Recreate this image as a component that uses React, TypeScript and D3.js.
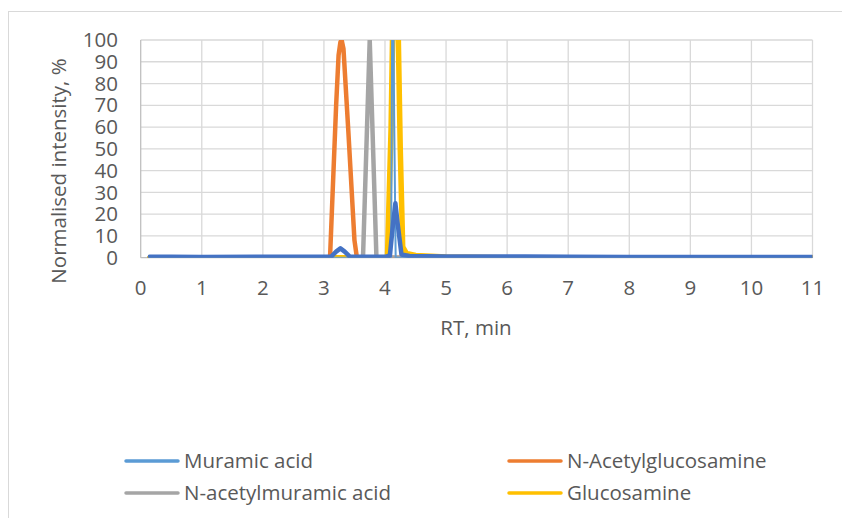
import React from 'react';
import * as d3 from 'd3';

// RT (min) / normalised intensity (%) pairs
const muramicAcid: [number, number][] = [
  [0.15, 0], [2, 0], [4.05, 0], [4.1, 0], [4.125, 150], [4.15, 65], [4.175, 0], [6, 0], [11, 0],
];
const nAcetylglucosamine: [number, number][] = [
  [0.15, 0], [2, 0], [3.05, 0], [3.1, 0], [3.2, 70], [3.24, 93], [3.27, 99], [3.29, 100], [3.32, 96],
  [3.4, 58], [3.5, 8], [3.54, 0], [3.6, 0], [6, 0], [11, 0],
];
const nAcetylmuramicAcid: [number, number][] = [
  [0.15, 0], [2, 0], [3.6, 0], [3.64, 0], [3.75, 100], [3.86, 0], [3.9, 0], [6, 0], [11, 0],
];
const glucosamine: [number, number][] = [
  [0.15, 0], [2, 0], [4.0, 0], [4.04, 0], [4.1, 60], [4.14, 130], [4.2, 130], [4.25, 50],
  [4.29, 5], [4.35, 2], [4.5, 1], [5, 0.3], [6, 0], [11, 0],
];
// unlabelled trace drawn on top (dark blue)
const totalTrace: [number, number][] = [
  [0.15, 0.4], [0.5, 0.4], [1, 0.3], [2, 0.4], [3, 0.4], [3.12, 0.5], [3.2, 2.8], [3.27, 4.3],
  [3.34, 2.8], [3.42, 0.6], [3.6, 0.4], [4.0, 0.4], [4.08, 1], [4.13, 15], [4.17, 25], [4.21, 15],
  [4.27, 1.5], [4.4, 0.8], [5, 0.6], [6, 0.5], [6.3, 0.6], [7, 0.4], [8, 0.3], [9, 0.3], [10, 0.3], [11, 0.3],
];

const xTicks = [0, 1, 2, 3, 4, 5, 6, 7, 8, 9, 10, 11];
const yTicks = [0, 10, 20, 30, 40, 50, 60, 70, 80, 90, 100];

const legendNames = ['Muramic acid', 'N-Acetylglucosamine', 'N-acetylmuramic acid', 'Glucosamine'];
const legendColors = ['#5B9BD5', '#ED7D31', '#A5A5A5', '#FFC000'];

const W = 842;
const H = 518;
const FONT = '"Open Sans", sans-serif';
const TEXT = '#595959';
const FS = 20.5;

const App: React.FC = () => {
  const x = d3.scaleLinear().domain([0, 11]).range([140.7, 812.5]);
  const y = d3.scaleLinear().domain([0, 100]).range([257.7, 40]);

  const line = d3.line<[number, number]>()
    .x(d => x(d[0]))
    .y(d => y(d[1]));

  const traces = [
    { data: nAcetylglucosamine, color: '#ED7D31', width: 4.5 },
    { data: nAcetylmuramicAcid, color: '#A5A5A5', width: 4.5 },
    { data: glucosamine, color: '#FFC000', width: 5.5 },
    { data: muramicAcid, color: '#5B9BD5', width: 2 },
    { data: totalTrace, color: '#4472C4', width: 4.5 },
  ];

  const legendPos = [
    { lx: 126, ty: 461 },
    { lx: 509, ty: 461 },
    { lx: 126, ty: 493 },
    { lx: 509, ty: 493 },
  ];

  return (
    <svg width={W} height={H} style={{ position: 'absolute', left: 0, top: 0, background: '#fff' }}>
      <defs>
        <clipPath id="plot">
          <rect x={x(0)} y={y(100)} width={x(11) - x(0)} height={y(0) - y(100)} />
        </clipPath>
      </defs>
      <rect x={8.5} y={11.5} width={W} height={H} fill="#fff" stroke="#D9D9D9" />

      {/* gridlines */}
      {yTicks.filter(t => t > 0).map(t => (
        <line key={'gy' + t} x1={x(0)} x2={x(11)} y1={y(t)} y2={y(t)} stroke="#D9D9D9" strokeWidth={1.3} />
      ))}
      {xTicks.filter(t => t > 0).map(t => (
        <line key={'gx' + t} x1={x(t)} x2={x(t)} y1={y(0)} y2={y(100)} stroke="#D9D9D9" strokeWidth={1.3} />
      ))}
      {/* axes */}
      <line x1={x(0)} x2={x(0)} y1={y(0)} y2={y(100)} stroke="#BFBFBF" strokeWidth={1.3} />
      <line x1={x(0)} x2={x(11)} y1={y(0)} y2={y(0)} stroke="#BFBFBF" strokeWidth={1.3} />

      {/* tick labels */}
      {yTicks.map(t => (
        <text key={'ty' + t} x={118} y={y(t)} dy="0.35em" textAnchor="end" fontFamily={FONT} fontSize={FS} fill={TEXT}>{t}</text>
      ))}
      {xTicks.map(t => (
        <text key={'tx' + t} x={x(t)} y={288} dy="0.35em" textAnchor="middle" fontFamily={FONT} fontSize={FS} fill={TEXT}>{t}</text>
      ))}

      {/* axis titles */}
      <text transform={`translate(59,171) rotate(-90)`} dy="0.35em" textAnchor="middle" fontFamily={FONT} fontSize={FS} fill={TEXT}>
        Normalised intensity, %
      </text>
      <text x={476} y={328} dy="0.35em" textAnchor="middle" fontFamily={FONT} fontSize={FS} fill={TEXT}>RT, min</text>

      {/* traces */}
      <g clipPath="url(#plot)">
        {traces.map((tr, i) => (
          <path key={i} d={line(tr.data) || ''} fill="none" stroke={tr.color} strokeWidth={tr.width} strokeLinejoin="round" strokeLinecap="round" />
        ))}
      </g>

      {/* legend */}
      {legendNames.map((name, i) => (
        <g key={name}>
          <line x1={legendPos[i].lx} x2={legendPos[i].lx + 52} y1={legendPos[i].ty} y2={legendPos[i].ty} stroke={legendColors[i]} strokeWidth={3.5} strokeLinecap="round" />
          <text x={legendPos[i].lx + 58} y={legendPos[i].ty} dy="0.35em" fontFamily={FONT} fontSize={FS} fill={TEXT}>{name}</text>
        </g>
      ))}
    </svg>
  );
};

export default App;
